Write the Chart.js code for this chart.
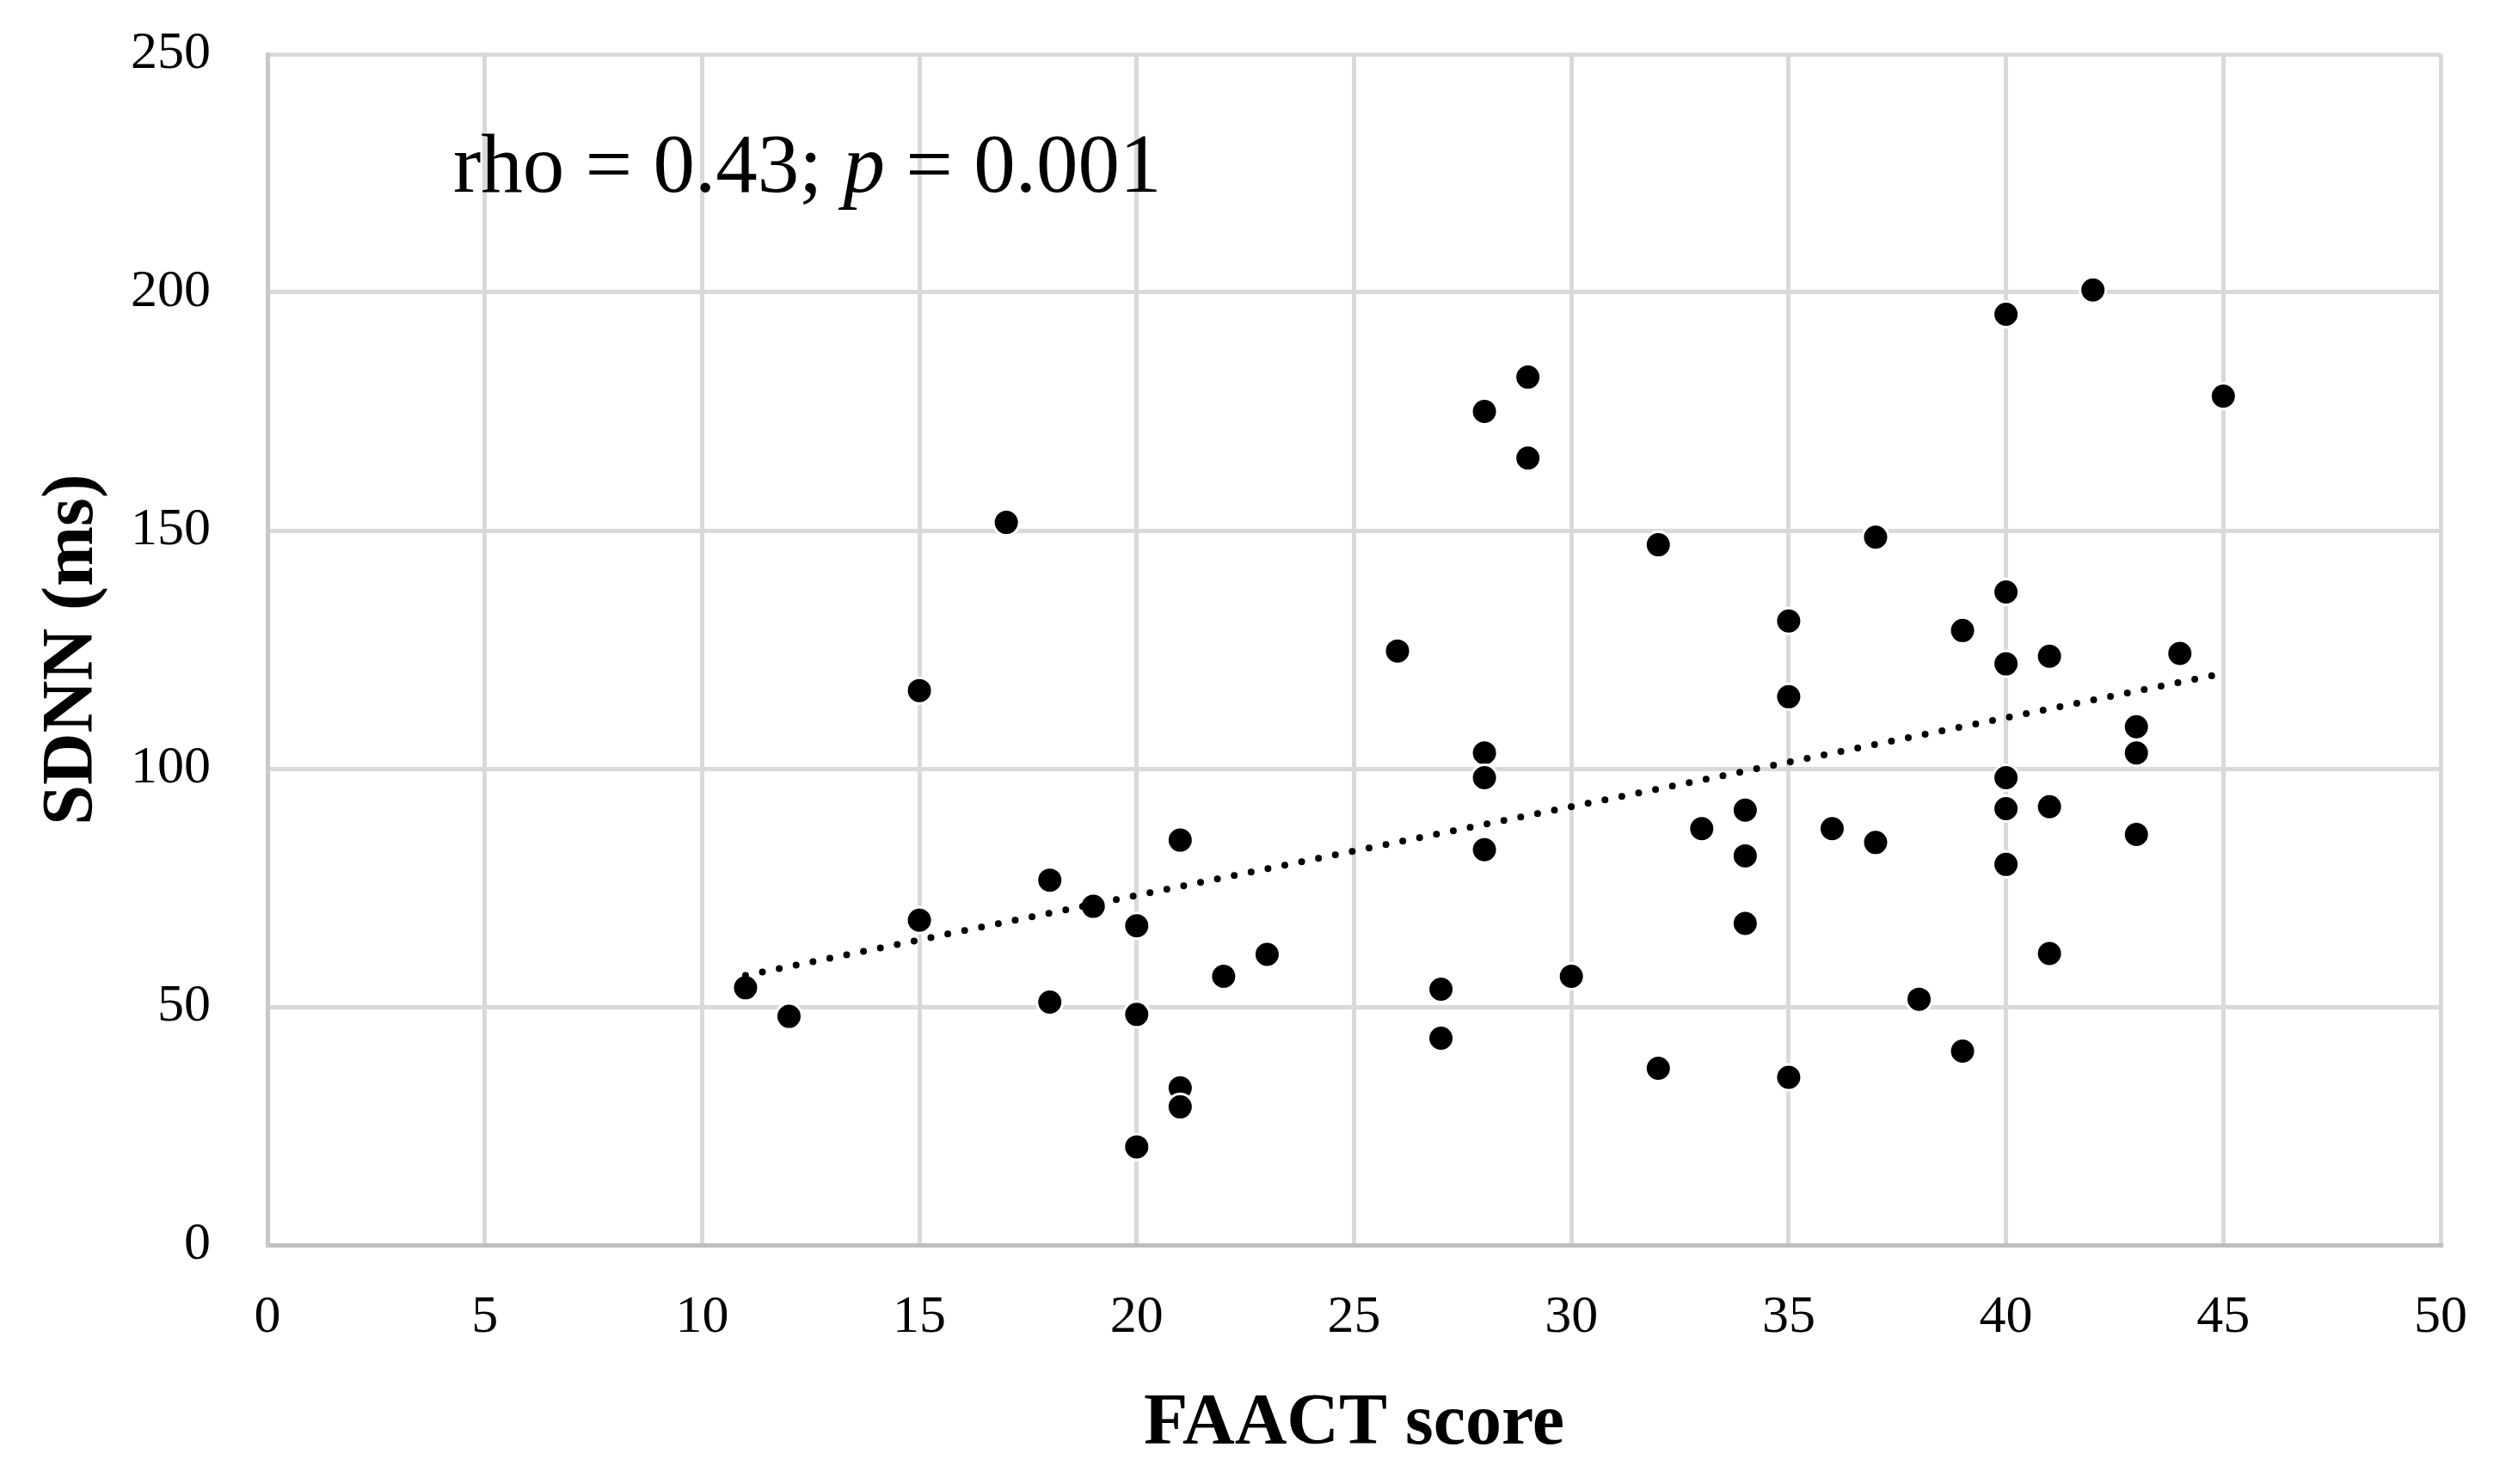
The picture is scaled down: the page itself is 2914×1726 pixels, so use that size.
<!DOCTYPE html>
<html>
<head>
<meta charset="utf-8">
<script src="https://cdn.jsdelivr.net/npm/chart.js@4.4.1/dist/chart.umd.min.js"></script>
<style>
  html, body { margin: 0; padding: 0; background: #fff; }
  canvas { display: block; }
</style>
</head>
<body>
<canvas id="myChart" width="2914" height="1726"></canvas>
<script>
"use strict";

// FAACT score (x) and SDNN in ms (y), one entry per patient
const faactScores = [11, 12, 15, 15, 17, 18, 18, 19, 20, 20, 20, 21, 21, 21, 22, 23, 26, 27, 27,
    28, 28, 28, 28, 29, 29, 30, 32, 32, 33, 34, 34, 34, 35, 35, 35, 36, 37, 37, 38, 39, 39,
    40, 40, 40, 40, 40, 40, 41, 41, 41, 42, 43, 43, 43, 44, 45];
const sdnnValues = [54, 48, 116.4, 68.2, 151.7, 76.6, 51, 71.1, 67, 48.4, 20.6, 85, 33, 29, 56.4, 61, 124.7, 53.7, 43.4,
    175, 103.3, 98.1, 83, 182.2, 165.2, 56.4, 147, 37.1, 87.4, 91.3, 81.7, 67.5, 131, 115.1, 35.2, 87.4, 148.6, 84.5, 51.6, 129, 40.7,
    195.4, 137.1, 122, 98.1, 91.6, 79.9, 123.6, 92, 61.2, 200.5, 108.8, 103.3, 86.2, 124.2, 178.2];

// linear trend line end points
const trendX = [11, 45];
const trendY = [56.6, 120.0];

const xTicks = [0, 5, 10, 15, 20, 25, 30, 35, 40, 45, 50];
const yTicks = [0, 50, 100, 150, 200, 250];

const statLabel = ["rho = 0.43; ", "p", " = 0.001"];

const FONT = "'Liberation Serif', 'Times New Roman', serif";

const statPlugin = {
    id: "statText",
    afterDraw(chart) {
        const ctx = chart.ctx;
        const area = chart.chartArea;
        let x = area.left + 216;
        const y = area.top + 160;
        ctx.save();
        ctx.fillStyle = "#000";
        ctx.textBaseline = "alphabetic";
        ctx.textAlign = "left";
        statLabel.forEach((part, i) => {
            ctx.font = (i === 1 ? "italic " : "") + "97px " + FONT;
            ctx.fillText(part, x, y);
            x += ctx.measureText(part).width;
        });
        ctx.restore();
    }
};

// keep the label overflow from pushing the plot area around
function noPad(s) {
    s.paddingTop = 0;
    s.paddingBottom = 0;
    s.paddingLeft = 0;
    s.paddingRight = 0;
}

const points = faactScores.map((v, i) => ({ x: v, y: sdnnValues[i] }));
const trend = trendX.map((v, i) => ({ x: v, y: trendY[i] }));

const ctx = document.querySelector("#myChart").getContext("2d");
const myChart = new Chart(ctx, {
    type: "scatter",
    data: {
        datasets: [{
            type: "line",
            data: trend,
            borderColor: "#000",
            borderWidth: 8,
            borderDash: [0, 20],
            borderCapStyle: "round",
            pointRadius: 0,
            fill: false
        }, {
            data: points,
            backgroundColor: "#000",
            borderColor: "#fff",
            borderWidth: 3,
            pointRadius: 15,
            pointHoverRadius: 15
        }]
    },
    options: {
        responsive: false,
        animation: false,
        layout: {
            padding: { left: 0, right: 76, top: 63, bottom: 0 }
        },
        plugins: {
            legend: { display: false },
            tooltip: { enabled: false }
        },
        scales: {
            x: {
                type: "linear",
                min: 0,
                max: 50,
                afterBuildTicks: s => { s.ticks = xTicks.map(v => ({ value: v })); },
                afterFit: s => { s.height = 278; noPad(s); },
                grid: { color: "#d9d9d9", lineWidth: 5, drawTicks: false },
                border: { color: "#bfbfbf", width: 5 },
                ticks: {
                    color: "#000",
                    padding: 48,
                    maxRotation: 0,
                    font: { family: FONT, size: 62 }
                },
                title: {
                    display: true,
                    text: "FAACT score",
                    color: "#000",
                    padding: { top: 0, bottom: 18 },
                    font: { family: FONT, size: 84, weight: "bold" }
                }
            },
            y: {
                type: "linear",
                min: 0,
                max: 250,
                afterBuildTicks: s => { s.ticks = yTicks.map(v => ({ value: v })); },
                afterFit: s => { s.width = 311; noPad(s); },
                grid: { color: "#d9d9d9", lineWidth: 5, drawTicks: false },
                border: { color: "#c8c8c8", width: 5 },
                ticks: {
                    color: "#000",
                    padding: 66,
                    font: { family: FONT, size: 62 }
                },
                title: {
                    display: true,
                    text: "SDNN (ms)",
                    color: "#000",
                    padding: { top: 35, bottom: 0 },
                    font: { family: FONT, size: 84, weight: "bold" }
                }
            }
        }
    },
    plugins: [statPlugin]
});
</script>
</body>
</html>
